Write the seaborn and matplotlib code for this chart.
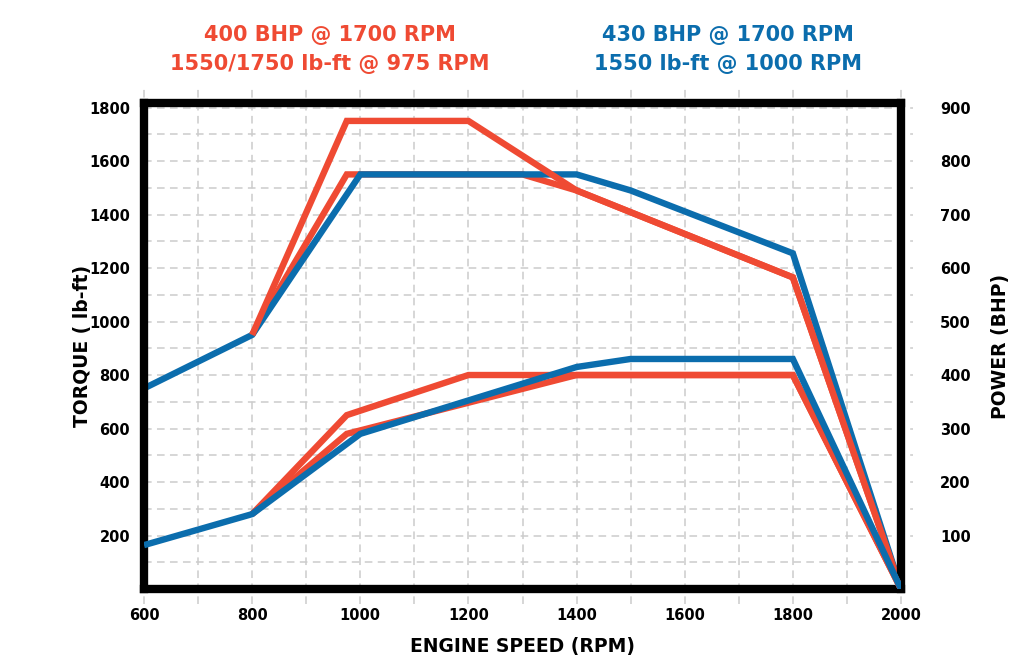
import numpy as np
import pandas as pd
import matplotlib
matplotlib.use('Agg')
import matplotlib.pyplot as plt
import seaborn as sns

RED = '#EF4A33'
BLUE = '#0B6DAD'

# torque curves (lb-ft)
blue_torque_rpm = [600, 800, 1000, 1400, 1500, 1800, 2000]
blue_torque = [750, 950, 1550, 1550, 1490, 1255, 0]
red_torque_hi_rpm = [800, 975, 1200, 1400, 1800, 2000]
red_torque_hi = [950, 1750, 1750, 1490, 1165, 0]
red_torque_lo_rpm = [800, 975, 1300, 1400, 1800, 2000]
red_torque_lo = [950, 1550, 1550, 1490, 1165, 0]

# power curves (BHP)
blue_power_rpm = [600, 800, 1000, 1400, 1500, 1800, 2000]
blue_power = [82, 140, 290, 415, 430, 430, 0]
red_power_hi_rpm = [800, 975, 1200, 1800, 2000]
red_power_hi = [140, 325, 400, 400, 0]
red_power_lo_rpm = [800, 975, 1400, 1800, 2000]
red_power_lo = [140, 290, 400, 400, 0]

x_ticks = [600, 800, 1000, 1200, 1400, 1600, 1800, 2000]
torque_ticks = [200, 400, 600, 800, 1000, 1200, 1400, 1600, 1800]
power_ticks = [100, 200, 300, 400, 500, 600, 700, 800, 900]

red_title = ['400 BHP @ 1700 RPM', '1550/1750 lb-ft @ 975 RPM']
blue_title = ['430 BHP @ 1700 RPM', '1550 lb-ft @ 1000 RPM']

sns.set_theme(style='white')
plt.rcParams['font.family'] = ['DejaVu Sans']

fig = plt.figure(figsize=(10.24, 6.72), dpi=100)
ax = fig.add_axes([144 / 1024, 1 - 589 / 672, 757 / 1024, 486 / 672])
ax2 = ax.twinx()

TOP = 1817
ax.set_xlim(600, 2000)
ax.set_ylim(0, TOP)
ax2.set_ylim(0, TOP / 2)

# dashed grid, sticking out a bit past the frame like the original
grid_kw = dict(color='#cccccc', lw=1.1, ls=(0, (5, 3.5)), zorder=0.5, clip_on=False)
for xv in np.arange(600, 2001, 100):
    ax.axvline(xv, ymin=-0.03, ymax=1.03, **grid_kw)
for yv in np.arange(100, 1801, 100):
    ax.axhline(yv, xmin=0, xmax=1.016, **grid_kw)

line_kw = dict(lw=4.6, solid_joinstyle='miter', solid_capstyle='butt', sort=False, estimator=None)
sns.lineplot(x=red_torque_lo_rpm, y=red_torque_lo, color=RED, ax=ax, **line_kw)
sns.lineplot(x=blue_torque_rpm, y=blue_torque, color=BLUE, ax=ax, **line_kw)
sns.lineplot(x=red_torque_hi_rpm, y=red_torque_hi, color=RED, ax=ax, **line_kw)
sns.lineplot(x=red_power_lo_rpm, y=red_power_lo, color=RED, ax=ax2, **line_kw)
sns.lineplot(x=red_power_hi_rpm, y=red_power_hi, color=RED, ax=ax2, **line_kw)
sns.lineplot(x=blue_power_rpm, y=blue_power, color=BLUE, ax=ax2, **line_kw)

for a in (ax, ax2):
    for s in a.spines.values():
        s.set_visible(False)
for s in ax.spines.values():
    s.set_visible(True)
    s.set_color('black')
    s.set_linewidth(6)
    s.set_zorder(3)

ax.set_xticks(x_ticks)
ax.set_xticklabels([str(v) for v in x_ticks])
ax.set_yticks(torque_ticks)
ax.set_yticklabels([str(v) for v in torque_ticks])
ax2.set_yticks(power_ticks)
ax2.set_yticklabels([str(v) for v in power_ticks])
ax.tick_params(axis='x', length=0, pad=14, labelsize=10.5, colors='black')
ax.tick_params(axis='y', length=0, pad=10, labelsize=10.5, colors='black')
ax2.tick_params(axis='y', length=0, pad=28, labelsize=10.5, colors='black')
for lab in ax.get_xticklabels() + ax.get_yticklabels() + ax2.get_yticklabels():
    lab.set_fontweight('bold')

ax.set_xlabel('ENGINE SPEED (RPM)', fontsize=13.5, fontweight='bold', labelpad=10, color='black')
ax.set_ylabel('TORQUE ( lb-ft)', fontsize=13.5, fontweight='bold', labelpad=-2, color='black')
ax2.set_ylabel('POWER (BHP)', fontsize=13.5, fontweight='bold', labelpad=15, color='black')

fig.text(330 / 1024, 1 - 35 / 672, red_title[0], color=RED, fontsize=15, fontweight='bold', ha='center', va='center')
fig.text(330 / 1024, 1 - 64 / 672, red_title[1], color=RED, fontsize=15, fontweight='bold', ha='center', va='center')
fig.text(728 / 1024, 1 - 35 / 672, blue_title[0], color=BLUE, fontsize=15, fontweight='bold', ha='center', va='center')
fig.text(728 / 1024, 1 - 64 / 672, blue_title[1], color=BLUE, fontsize=15, fontweight='bold', ha='center', va='center')

fig.savefig('out.png', dpi=100, facecolor='white')
